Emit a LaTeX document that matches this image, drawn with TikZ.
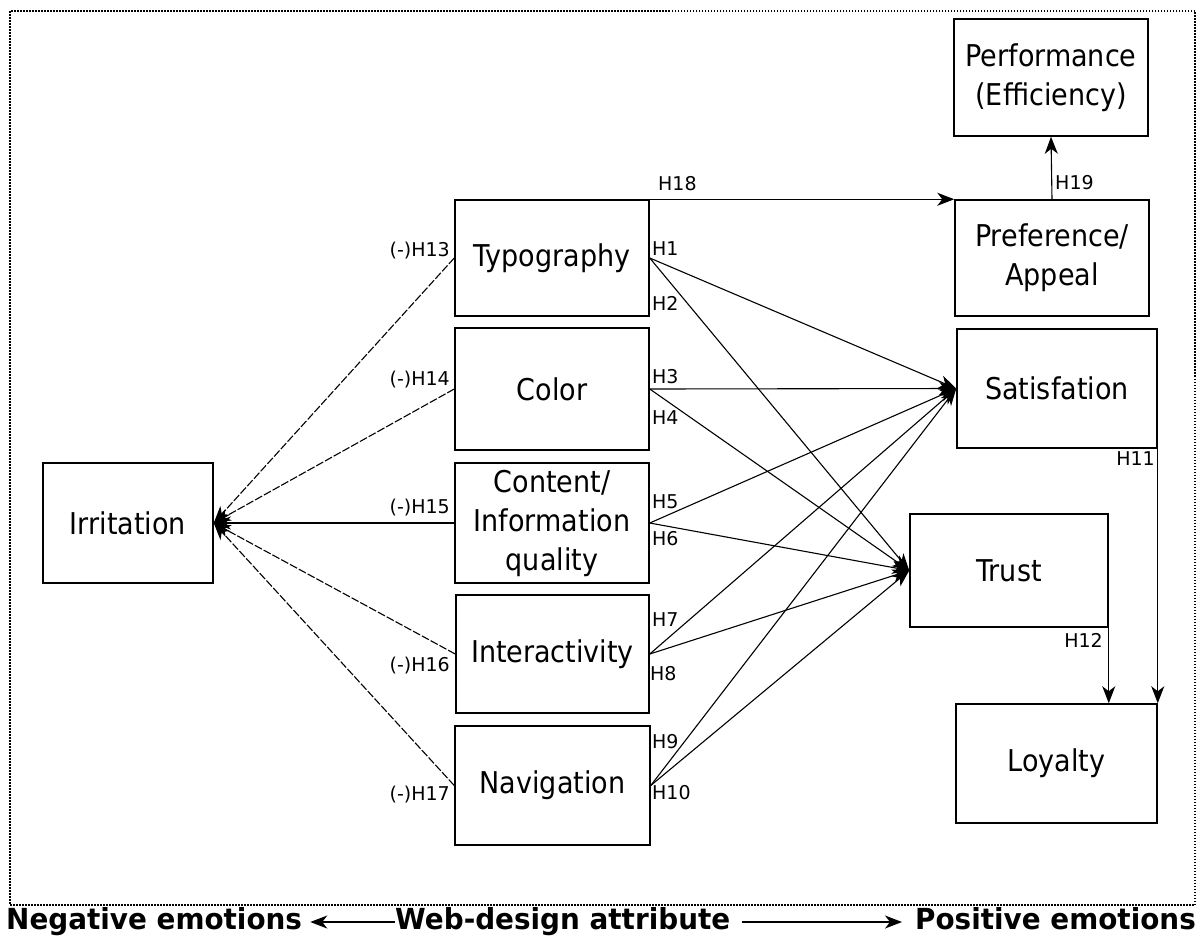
\documentclass[tikz,border=0pt]{standalone}
\usepackage{fontspec}
\setmainfont{DejaVu Sans}
\newfontfamily\boxfont[FakeStretch=0.9]{DejaVu Sans}
\newfontfamily\botfont[FakeStretch=0.96]{DejaVu Sans}
\usetikzlibrary{arrows.meta}
\begin{document}
\begin{tikzpicture}[x=1pt,y=-1pt,
  box/.style={draw, line width=1.5pt, inner sep=0pt, align=center,
    font=\boxfont\fontsize{30}{39}\selectfont},
  lab/.style={inner sep=0pt, font=\fontsize{19}{21}\selectfont},
  tip/.style={-{Stealth[length=17pt,width=13pt,inset=5pt]}},
  conn/.style={line width=1.1pt, tip},
  dconn/.style={conn, dash pattern=on 8pt off 2pt},
  bot/.style={inner sep=0pt, text height=21pt, text depth=6pt,
    font=\botfont\bfseries\fontsize{29}{33}\selectfont}]
\useasboundingbox (0,0) rectangle (1198,940);
\draw[line width=1.3pt, dash pattern=on 1.5pt off 1.5pt] (10,11) rectangle (1195,905);

% boxes
\node[box, minimum width=170pt, minimum height=120pt] (irr) at (128,523) {Irritation};
\node[box, minimum width=194pt, minimum height=116pt] (typo) at (552,258) {Typography};
\node[box, minimum width=194pt, minimum height=122pt] (color) at (552,389) {Color};
\node[box, minimum width=194pt, minimum height=120pt] (content) at (552,523) {Content/\\Information\\quality};
\node[box, minimum width=193pt, minimum height=118pt] (inter) at (552.5,654) {Interactivity};
\node[box, minimum width=195pt, minimum height=119pt] (nav) at (552.5,785.5) {Navigation};
\node[box, minimum width=194pt, minimum height=117pt] (perf) at (1051,77.5) {Performance\\(Efficiency)};
\node[box, minimum width=194pt, minimum height=116pt] (pref) at (1052,258) {Preference/\\Appeal};
\node[box, minimum width=200pt, minimum height=119pt] (sat) at (1057,388.5) {Satisfation};
\node[box, minimum width=198pt, minimum height=113pt] (trust) at (1009,570.5) {Trust};
\node[box, minimum width=201pt, minimum height=119pt] (loyal) at (1056.5,763.5) {Loyalty};

% negative paths
\draw[dconn] (typo.west) -- (irr.east);
\draw[dconn] (color.west) -- (irr.east);
\draw[conn] (content.west) -- (irr.east);
\draw[dconn] (inter.west) -- (irr.east);
\draw[dconn] (nav.west) -- (irr.east);

% positive paths
\foreach \s in {typo,color,content,inter,nav}{
  \draw[conn] (\s.east) -- (sat.west);
  \draw[conn] (\s.east) -- (trust.west);
}
\draw[conn] (typo.north east) -- (pref.north west);
\draw[conn] (pref.north) -- (perf.south);
\draw[conn] (sat.south east) -- (loyal.north east);
\draw[conn] (trust.south east) -- (trust.south east |- loyal.north);

% labels
\node[lab, anchor=west] (l1) at (652,249) {H1};
\node[lab, anchor=west] (l2) at (652,303) {H2};
\node[lab, anchor=west] (l3) at (652,377) {H3};
\node[lab, anchor=west] (l4) at (652,418) {H4};
\node[lab, anchor=west] (l5) at (652,502) {H5};
\node[lab, anchor=west] (l6) at (652,539) {H6};
\node[lab, anchor=west] (l7) at (652,620) {H7};
\node[lab, anchor=west] (l8) at (650,674) {H8};
\node[lab, anchor=west] (l9) at (652,742) {H9};
\node[lab, anchor=west] (l10) at (652,793) {H10};
\node[lab, anchor=east] (l11) at (1155,459) {H11};
\node[lab, anchor=east] (l12) at (1103,640) {H12};
\node[lab, anchor=east] (l13) at (450,251) {(-)H13};
\node[lab, anchor=east] (l14) at (450,380) {(-)H14};
\node[lab, anchor=east] (l15) at (450,508) {(-)H15};
\node[lab, anchor=east] (l16) at (450,666) {(-)H16};
\node[lab, anchor=east] (l17) at (450,795) {(-)H17};
\node[lab, anchor=west] (l18) at (658,184) {H18};
\node[lab, anchor=west] (l19) at (1055,183) {H19};

% bottom legend
\node[bot, anchor=west] (neg) at (6,922) {Negative emotions};
\node[bot, anchor=west] (web) at (395,922) {Web-design attribute};
\node[bot, anchor=east] (pos) at (1196,922) {Positive emotions};
\draw[line width=1.4pt, tip, shorten >=8pt] (web.west) -- (neg.east);
\draw[line width=1.4pt, tip, shorten <=12pt, shorten >=13pt] (web.east) -- (pos.west);
\end{tikzpicture}
\end{document}
